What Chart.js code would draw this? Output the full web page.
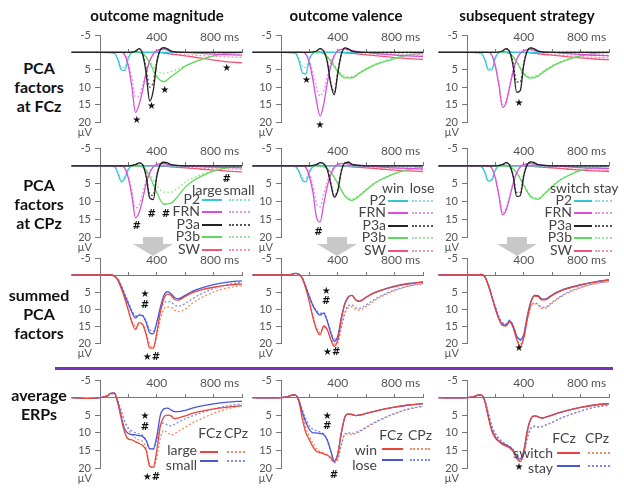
<!DOCTYPE html>
<html><head><meta charset="utf-8">
<script src="https://cdn.jsdelivr.net/npm/chart.js@4"></script>
<style>
body{margin:0;width:624px;height:492px;background:#fff;position:relative;overflow:hidden;font-family:Lato,"Open Sans",sans-serif;}
canvas{position:absolute;}
.txt{position:absolute;white-space:nowrap;line-height:1;color:#222;}
.title{font-weight:bold;font-size:15px;color:#111;}
.rowlab{font-weight:bold;font-size:16px;color:#111;}
.lg2{font-size:14px;color:#444;}
.lg4{font-size:14px;color:#444;}
</style></head><body>
<svg style="position:absolute;left:0;top:0" width="624" height="492" id="deco"></svg>
<script>
// ---------------- DATA ----------------
const xTicks = [0, 200, 400, 600, 800, 1000];
const yTicks = [-5, 5, 10, 15, 20];
const columnTitles = ['outcome magnitude', 'outcome valence', 'subsequent strategy'];
const rowLabels = [['PCA', 'factors', 'at FCz'], ['PCA', 'factors', 'at CPz'], ['summed', 'PCA', 'factors'], ['average', 'ERPs']];
const compNames = ['P2', 'FRN', 'P3a', 'P3b', 'SW'];
const condMag = ['large', 'small'];
const condVal = ['win', 'lose'];
const condStr = ['switch', 'stay'];
const electrodes = ['FCz', 'CPz'];

const times_P2  = [-200, 0, 100, 125, 150, 175, 200, 225, 250, 300, 400, 1000];
const times_FRN = [-200, 0, 150, 175, 200, 225, 250, 275, 300, 325, 350, 375, 400, 450, 500, 600, 800, 1000];
const times_P3a = [-200, 0, 200, 250, 275, 300, 325, 350, 375, 400, 425, 450, 475, 500, 600, 1000];
const times_P3b = [-200, 0, 250, 300, 350, 400, 450, 500, 550, 600, 650, 700, 800, 900, 1000];
const times_SW  = [-200, 0, 300, 400, 500, 600, 700, 800, 900, 1000];
const times_ERP = [-200, -100, 0, 50, 75, 100, 125, 150, 175, 200, 225, 250, 275, 300, 325, 350, 375, 400, 425, 450, 475, 500, 525, 550, 600, 650, 700, 800, 900, 1000];

// PCA factors at FCz
const mag_FCz_P2_large  = [0,0,0.2,2,5,5.2,1.5,0,-0.3,0,0,0];
const mag_FCz_P2_small  = [0,0,0.2,1.6,4.2,4.3,1.2,0,-0.3,0,0,0];
const mag_FCz_FRN_large = [0,0,0,0.8,4,10,17.3,15,11,6,2.5,0.5,-0.5,-1,-0.3,0,0.5,0.8];
const mag_FCz_FRN_small = [0,0,0,0.6,3,7.5,12.8,12.5,9.5,5.5,2.5,0.5,-0.4,-0.8,-0.3,0,0.3,0.5];
const mag_FCz_P3a_large = [0,0,0,-0.3,-1.1,0.5,6,14,11,3,-0.8,-1.4,-1,-0.4,0,0];
const mag_FCz_P3a_small = [0,0,0,-0.3,-1,0.3,4.5,10,8.5,2.5,-0.6,-1.2,-0.9,-0.3,0,0];
const mag_FCz_P3b_large = [0,0,0,0.3,3,7,8.4,7,5.5,4,3,2.2,1,0.3,0];
const mag_FCz_P3b_small = [0,0,0,0.3,2.5,5.2,6,5.5,4.7,3.8,3,2.2,1,0.3,0];
const mag_FCz_SW_large  = [0,0,0,0,0.5,1,1.6,2.2,2.7,3];
const mag_FCz_SW_small  = [0,0,0,0,0.3,0.6,0.9,1.1,1.3,1.4];

const val_FCz_P2_win   = [0,0,0.2,2.2,5.8,6.2,2,0.2,-0.3,0,0,0];
const val_FCz_P2_lose  = [0,0,0.2,1.5,4,4.3,1.5,0.2,-0.3,0,0,0];
const val_FCz_FRN_win  = [0,0,0,0.5,3,8,14,18.3,15,9,4,1,-0.5,-1,-0.5,0,0.8,1.2];
const val_FCz_FRN_lose = [0,0,0,0.4,2.5,6,10,12.5,11,7,3,0.8,-0.4,-0.8,-0.3,0,0.4,0.6];
const val_FCz_P3a_win  = [0,0,0,-0.4,-1.1,-0.4,2.5,9,12.2,6,0.5,-1.3,-1,-0.4,0,0];
const val_FCz_P3a_lose = [0,0,0,-0.4,-1.1,-0.4,2.2,8.5,11.5,5.5,0.4,-1.2,-0.9,-0.4,0,0];
const val_FCz_P3b_win  = [0,0,0,0.3,2.5,5.5,7.3,7.3,6,4.8,3.8,3,1.8,0.7,0.2];
const val_FCz_P3b_lose = [0,0,0,0.3,2.2,5,6.8,7,5.8,4.6,3.6,2.8,1.6,0.6,0.2];
const val_FCz_SW_win   = [0,0,0,0,0.3,0.7,1.1,1.5,1.8,2];
const val_FCz_SW_lose  = [0,0,0,0,0.2,0.4,0.6,0.7,0.8,0.9];

const str_FCz_P2_switch  = [0,0,0.2,2,5,5,1.5,0,-0.3,0,0,0];
const str_FCz_P2_stay    = [0,0,0.2,1.8,4.6,4.6,1.3,0,-0.3,0,0,0];
const str_FCz_FRN_switch = [0,0,0,0.8,4,9.5,15.8,14.5,10,5.5,2,0.3,-0.5,-0.8,-0.3,0,0.6,1];
const str_FCz_FRN_stay   = [0,0,0,0.8,3.8,9,15,14,9.5,5,1.8,0.3,-0.5,-0.8,-0.3,0,0.5,0.8];
const str_FCz_P3a_switch = [0,0,0,-0.4,-1.1,-0.2,4,11.5,11,3.5,-0.5,-1.3,-1,-0.4,0,0];
const str_FCz_P3a_stay   = [0,0,0,-0.4,-1,-0.2,3,8.5,8.5,3,-0.4,-1.2,-0.9,-0.4,0,0];
const str_FCz_P3b_switch = [0,0,0,0.3,2.8,6.2,7.4,6.8,5.3,4,3,2.2,1,0.3,0];
const str_FCz_P3b_stay   = [0,0,0,0.3,2.5,5.8,7,6.5,5,3.8,2.8,2,1,0.3,0];
const str_FCz_SW_switch  = [0,0,0,0,0.4,0.8,1.2,1.6,1.9,2.1];
const str_FCz_SW_stay    = [0,0,0,0,0.3,0.6,0.9,1.2,1.4,1.5];

// PCA factors at CPz
const mag_CPz_P2_large  = [0,0,0.2,2,4.5,3.5,1,0,-0.3,0,0,0];
const mag_CPz_P2_small  = [0,0,0.2,1.6,3.8,3,0.8,0,-0.3,0,0,0];
const mag_CPz_FRN_large = [0,0,0,0.7,3.5,8.5,14.6,13.2,9.5,5,2,0.3,-0.4,-0.6,-0.2,0,0.4,0.6];
const mag_CPz_FRN_small = [0,0,0,0.6,3,7,11.8,11,7.8,4.2,1.6,0.3,-0.4,-0.6,-0.2,0,0.3,0.4];
const mag_CPz_P3a_large = [0,0,0,-0.3,-0.8,-0.3,3,9,9.5,3,-0.4,-1,-0.8,-0.3,0,0];
const mag_CPz_P3a_small = [0,0,0,-0.3,-0.8,-0.3,2.6,8,8.3,2.6,-0.4,-1,-0.8,-0.3,0,0];
const mag_CPz_P3b_large = [0,0,0,0.3,3,7.5,10.8,10.5,8.5,6,4.4,3.2,1.5,0.5,0.2];
const mag_CPz_P3b_small = [0,0,0,0.3,2.2,5.5,7.4,7.4,6.2,4.6,3.5,2.6,1.3,0.5,0.2];
const mag_CPz_SW_large  = [0,0,0,0,0.3,0.6,0.9,1.2,1.5,1.7];
const mag_CPz_SW_small  = [0,0,0,0,0.2,0.4,0.6,0.8,0.9,1];

const val_CPz_P2_win   = [0,0,0.2,1.5,4,4.5,1.8,0.2,-0.3,0,0,0];
const val_CPz_P2_lose  = [0,0,0.2,1.2,3.2,3.6,1.4,0.2,-0.3,0,0,0];
const val_CPz_FRN_win  = [0,0,0,0.5,3,7.5,14.5,15.8,11,6,2.5,0.5,-0.4,-0.7,-0.3,0,0.6,0.9];
const val_CPz_FRN_lose = [0,0,0,0.4,2.2,5.5,10.5,11.5,8,4.5,1.8,0.3,-0.4,-0.6,-0.3,0,0.3,0.4];
const val_CPz_P3a_win  = [0,0,0,-0.3,-0.9,-0.6,1,5,8.8,7,1.5,-0.8,-1,-0.4,0,0];
const val_CPz_P3a_lose = [0,0,0,-0.3,-0.9,-0.6,0.9,4.6,8.4,6.6,1.4,-0.8,-1,-0.4,0,0];
const val_CPz_P3b_win  = [0,0,0,0.2,1.8,5,8.5,9.7,8.5,6.8,5.2,4,2.2,1,0.3];
const val_CPz_P3b_lose = [0,0,0,0.2,1.7,4.8,8.2,9.3,8.2,6.6,5,3.9,2.1,1,0.3];
const val_CPz_SW_win   = [0,0,0,0,0.3,0.6,0.9,1.2,1.4,1.6];
const val_CPz_SW_lose  = [0,0,0,0,0.2,0.4,0.6,0.7,0.8,0.9];

const str_CPz_P2_switch  = [0,0,0.2,1.8,4.3,4,1.2,0,-0.3,0,0,0];
const str_CPz_P2_stay    = [0,0,0.2,1.6,4,3.7,1.1,0,-0.3,0,0,0];
const str_CPz_FRN_switch = [0,0,0,0.7,3.5,8.5,13.8,12.5,9,5,2,0.3,-0.4,-0.6,-0.3,0,0.5,0.8];
const str_CPz_FRN_stay   = [0,0,0,0.7,3.3,8,13.2,12,8.6,4.8,1.9,0.3,-0.4,-0.6,-0.3,0,0.4,0.7];
const str_CPz_P3a_switch = [0,0,0,-0.3,-0.9,-0.2,3,8.6,8.4,2.8,-0.4,-1.1,-0.9,-0.3,0,0];
const str_CPz_P3a_stay   = [0,0,0,-0.3,-0.9,-0.2,2.6,7.5,7.5,2.5,-0.4,-1,-0.8,-0.3,0,0];
const str_CPz_P3b_switch = [0,0,0,0.2,2,5.5,8.8,9.4,7.8,5.8,4.2,3,1.3,0.5,0.2];
const str_CPz_P3b_stay   = [0,0,0,0.2,1.9,5.2,8.4,9,7.5,5.6,4,2.9,1.3,0.5,0.2];
const str_CPz_SW_switch  = [0,0,0,0,0.3,0.6,0.9,1.2,1.4,1.6];
const str_CPz_SW_stay    = [0,0,0,0,0.3,0.5,0.8,1,1.2,1.3];

// summed PCA factors
const mag_sum_FCz_large = [0,0,0,0,0,0.3,1.5,4,7,10.5,14,16,14,14.5,17.5,21.5,21.5,17,11,7,5.6,6,7.2,7.4,6.3,5.2,4.5,3.6,3,2.6];
const mag_sum_CPz_large = [0,0,0,0,0,0.3,1.3,3.5,6.5,10,13.5,15,14.5,14.5,17,20.5,21.3,18,13,10,9.4,9.5,10.3,10.8,10,8.3,7,5,3.8,3.1];
const mag_sum_FCz_small = [0,0,0,0,0,0.3,1.3,3.5,6,8.5,11,12.6,11.8,12,14,17,17.3,14,9.5,6,4.9,5.5,6.6,7,6,4.8,4,2.8,2.1,1.7];
const mag_sum_CPz_small = [0,0,0,0,0,0.3,1.2,3,5.5,8,10.5,12,11.5,11.8,13.5,16,16.6,14,10.5,8.2,7.8,8,8.8,9.2,8.4,7,5.8,4,2.8,2.2];

const val_sum_FCz_win  = [0,0,0,0,-0.2,-0.5,-0.3,1,4,8,12.5,16,17.6,15,16,19,21,19,13,8.5,6.5,6,7.3,7.8,6.6,5.4,4.6,3.4,2.6,2.1];
const val_sum_CPz_win  = [0,0,0,0,-0.2,-0.5,-0.3,1,3.8,7.5,12,15.5,17,15.5,16,18.5,20.3,20,15.5,11.5,9.6,9.4,10.2,10.3,9.3,7.8,6.5,4.6,3.3,2.6];
const val_sum_FCz_lose = [0,0,0,0,-0.2,-0.5,-0.3,0.9,3.5,6.5,9,10.8,11.8,11.2,13.5,17,19.5,18,12.5,8.3,6.4,6,7.2,7.7,6.5,5.3,4.5,3.3,2.5,2];
const val_sum_CPz_lose = [0,0,0,0,-0.2,-0.5,-0.3,0.9,3.3,6.2,8.8,10.5,11.3,11,13,16.5,18.8,19,15,11,9,8.8,9.6,9.8,8.8,7.4,6.2,4.4,3.2,2.5];

const str_sum_FCz_switch = [0,0,0,0,0,-0.2,0.5,3,6.5,10,13,14.8,15,13.8,15.5,19,21,18.5,12.5,8,6.2,6.3,7.3,7.3,6,4.9,4.1,3,2.1,1.5];
const str_sum_CPz_switch = [0,0,0,0,0,-0.2,0.5,2.8,6.2,9.6,12.5,14.2,14.6,13.6,15.2,18.5,20.3,18.5,13.5,9.5,8.4,8.8,9.8,9.8,8.3,6.7,5.5,3.8,2.6,2];
const str_sum_FCz_stay   = [0,0,0,0,0,-0.2,0.5,3,6.3,9.8,12.8,14.5,14.7,13.5,15,18,19,17.5,12,7.8,6,6.1,7,7.1,5.8,4.7,3.9,2.8,2,1.4];
const str_sum_CPz_stay   = [0,0,0,0,0,-0.2,0.5,2.8,6,9.3,12.2,14,14.3,13.3,14.8,17.8,19.3,17.8,13,9.2,8.2,8.6,9.5,9.5,8,6.5,5.3,3.6,2.5,1.9];

// average ERPs
const mag_erp_FCz_large = [0,0.2,0,-0.5,-1.2,-1.3,1.5,6,10,11.8,12,12.6,13,13.6,15,19.5,19.8,15,8,5.5,5,5.2,6,5.8,5.2,4.5,4,3.2,2.7,2.3];
const mag_erp_CPz_large = [0,0.2,0,-0.4,-1,-1.2,0.8,4,7,9,10.5,11.5,12,12.5,14.5,19,20,17,11.5,9.3,10,10.6,10.3,9.6,8.5,7.2,6.3,4.5,3.2,2.3];
const mag_erp_FCz_small = [0,0.2,0,-0.5,-1.2,-1.3,1.3,5.5,9,10.2,10.5,10.6,10.8,11,12.2,14.5,14.6,11,5,3.2,3,3.5,4,4,3.6,3,2.5,1.8,1.3,1];
const mag_erp_CPz_small = [0,0.2,0,-0.4,-1,-1.2,0.8,3.8,6.8,8.6,9.5,10,10.3,10.7,12,14.5,14.7,12,8,7.2,7.8,8,7.6,7,6,5.2,4.5,3.2,2.3,1.8];

const val_erp_FCz_win  = [0,0.1,0,-0.3,-0.7,-0.8,1,6,10,12,14,15.3,15.6,16,16.3,17,18.2,16,10,5.5,4.6,4.8,5.1,5,4.5,4,3.5,2.7,2.1,1.7];
const val_erp_CPz_win  = [0,0.1,0,-0.3,-0.6,-0.7,0.6,4.5,8.5,11,13,14.5,15.3,15.8,16.3,17.5,18.5,17.3,13.5,10.5,10.3,10.5,10.2,9.8,8.6,7.4,6.4,4.6,3.3,2.5];
const val_erp_FCz_lose = [0,0.1,0,-0.3,-0.7,-0.8,0.8,4,7,9,10,10,10.2,10.5,12,15,18,16,10,5.5,4.6,4.8,5.1,5,4.5,4,3.5,2.7,2.1,1.7];
const val_erp_CPz_lose = [0,0.1,0,-0.3,-0.6,-0.7,0.5,3.5,6,8,9,9.4,9.8,10.3,12,15.5,18.5,17.5,13.5,10.3,10,10.2,9.9,9.5,8.4,7.2,6.2,4.5,3.2,2.4];

const str_erp_FCz_switch = [0,0.1,0,-0.3,-0.7,-0.8,1,5.5,9.5,11.5,12.5,13.3,13.8,14.3,15.3,17.3,18.2,15.5,9.5,6,5.2,5.4,5.8,5.6,5,4.3,3.7,2.8,2.1,1.7];
const str_erp_CPz_switch = [0,0.1,0,-0.3,-0.6,-0.7,0.7,4.5,8.3,10.5,11.8,12.8,13.5,14,15,17,18,16.2,11.5,8.8,8.3,8.5,8.4,8,7.1,6.1,5.3,3.9,2.8,2.2];
const str_erp_FCz_stay   = [0,0.1,0,-0.3,-0.7,-0.8,1,5.3,9.2,11.2,12.3,13,13.5,14,15,16.8,17.5,15,9.3,6,5.2,5.4,5.8,5.6,5,4.3,3.7,2.8,2.1,1.7];
const str_erp_CPz_stay   = [0,0.1,0,-0.3,-0.6,-0.7,0.7,4.3,8,10.2,11.5,12.5,13.2,13.8,14.8,16.6,17.3,15.8,11.2,8.6,8.1,8.3,8.2,7.8,7,6,5.2,3.8,2.7,2.1];

// significance marks: [time ms, µV, symbol]
const marks_mag_FCz = [[258, 19.5, '★'], [362, 15.6, '★'], [455, 10.9, '★'], [892, 4.7, '★']];
const marks_val_FCz = [[180, 8, '★'], [275, 20.9, '★']];
const marks_str_FCz = [[366, 14.7, '★']];
const marks_mag_CPz = [[258, 17, '#'], [364, 13.6, '#'], [465, 13.6, '#'], [892, 3.7, '#']];
const marks_val_CPz = [[263, 18.8, '#']];
const marks_str_CPz = [];
const marks_mag_sum = [[317, 5.8, '★'], [317, 8.8, '#'], [362, 24.3, '★#']];
const marks_val_sum = [[319, 4.8, '★'], [319, 7.9, '#'], [357, 22.9, '★#']];
const marks_str_sum = [[366, 21.6, '★']];
const marks_mag_erp = [[317, 5.4, '★'], [317, 8.4, '#'], [362, 22.7, '★#']];
const marks_val_erp = [[325, 5.4, '★'], [325, 8.3, '#'], [373, 22, '#']];
const marks_str_erp = [[366, 19.7, '★']];

// ---------------- STYLE / LAYOUT ----------------
const FONT = 'Lato, "Open Sans", sans-serif';
const compColors = ['#35c6d6', '#d94fd9', '#222222', '#5fd95a', '#f0557a'];
const compDotColors = ['#86dde8', '#e394e3', '#555555', '#9de59a', '#f296ad'];
const ercColors = {red: '#e8453c', redDot: '#f08a62', blue: '#4b55d9', blueDot: '#7f8ce6'};
const colAxis = [100, 281, 467];
const rowY = [[35, 122], [148, 237], [258, 343], [380, 468]];

const pts = (t, v) => t.map((x, i) => ({x, y: v[i]}));
const compTimes = [times_P2, times_FRN, times_P3a, times_P3b, times_SW];

// Chart.js paints dataset 0 last (on top), so lists are built bottom-first then reversed
function pcaDatasets(pairs) {
  const order = [4, 3, 0, 1, 2];
  const ds = [];
  for (const i of order) {
    ds.push({data: pts(compTimes[i], pairs[i][1]), borderColor: compDotColors[i], borderDash: [2, 2], borderWidth: 1.3});
    ds.push({data: pts(compTimes[i], pairs[i][0]), borderColor: compColors[i], borderWidth: 1.3});
  }
  return ds.reverse();
}
function erpDatasets(fcz1, cpz1, fcz2, cpz2) {
  return [
    {data: pts(times_ERP, cpz1), borderColor: ercColors.redDot, borderDash: [2, 2], borderWidth: 1.3},
    {data: pts(times_ERP, cpz2), borderColor: ercColors.blueDot, borderDash: [2, 2], borderWidth: 1.3},
    {data: pts(times_ERP, fcz2), borderColor: ercColors.blue, borderWidth: 1.3},
    {data: pts(times_ERP, fcz1), borderColor: ercColors.red, borderWidth: 1.3}
  ].reverse();
}

const panels = [
  {col: 0, row: 0, marks: marks_mag_FCz, datasets: pcaDatasets([[mag_FCz_P2_large, mag_FCz_P2_small], [mag_FCz_FRN_large, mag_FCz_FRN_small], [mag_FCz_P3a_large, mag_FCz_P3a_small], [mag_FCz_P3b_large, mag_FCz_P3b_small], [mag_FCz_SW_large, mag_FCz_SW_small]])},
  {col: 1, row: 0, marks: marks_val_FCz, datasets: pcaDatasets([[val_FCz_P2_win, val_FCz_P2_lose], [val_FCz_FRN_win, val_FCz_FRN_lose], [val_FCz_P3a_win, val_FCz_P3a_lose], [val_FCz_P3b_win, val_FCz_P3b_lose], [val_FCz_SW_win, val_FCz_SW_lose]])},
  {col: 2, row: 0, marks: marks_str_FCz, datasets: pcaDatasets([[str_FCz_P2_switch, str_FCz_P2_stay], [str_FCz_FRN_switch, str_FCz_FRN_stay], [str_FCz_P3a_switch, str_FCz_P3a_stay], [str_FCz_P3b_switch, str_FCz_P3b_stay], [str_FCz_SW_switch, str_FCz_SW_stay]])},
  {col: 0, row: 1, marks: marks_mag_CPz, datasets: pcaDatasets([[mag_CPz_P2_large, mag_CPz_P2_small], [mag_CPz_FRN_large, mag_CPz_FRN_small], [mag_CPz_P3a_large, mag_CPz_P3a_small], [mag_CPz_P3b_large, mag_CPz_P3b_small], [mag_CPz_SW_large, mag_CPz_SW_small]])},
  {col: 1, row: 1, marks: marks_val_CPz, datasets: pcaDatasets([[val_CPz_P2_win, val_CPz_P2_lose], [val_CPz_FRN_win, val_CPz_FRN_lose], [val_CPz_P3a_win, val_CPz_P3a_lose], [val_CPz_P3b_win, val_CPz_P3b_lose], [val_CPz_SW_win, val_CPz_SW_lose]])},
  {col: 2, row: 1, marks: marks_str_CPz, datasets: pcaDatasets([[str_CPz_P2_switch, str_CPz_P2_stay], [str_CPz_FRN_switch, str_CPz_FRN_stay], [str_CPz_P3a_switch, str_CPz_P3a_stay], [str_CPz_P3b_switch, str_CPz_P3b_stay], [str_CPz_SW_switch, str_CPz_SW_stay]])},
  {col: 0, row: 2, marks: marks_mag_sum, datasets: erpDatasets(mag_sum_FCz_large, mag_sum_CPz_large, mag_sum_FCz_small, mag_sum_CPz_small)},
  {col: 1, row: 2, marks: marks_val_sum, datasets: erpDatasets(val_sum_FCz_win, val_sum_CPz_win, val_sum_FCz_lose, val_sum_CPz_lose)},
  {col: 2, row: 2, marks: marks_str_sum, datasets: erpDatasets(str_sum_FCz_switch, str_sum_CPz_switch, str_sum_FCz_stay, str_sum_CPz_stay)},
  {col: 0, row: 3, marks: marks_mag_erp, datasets: erpDatasets(mag_erp_FCz_large, mag_erp_CPz_large, mag_erp_FCz_small, mag_erp_CPz_small)},
  {col: 1, row: 3, marks: marks_val_erp, datasets: erpDatasets(val_erp_FCz_win, val_erp_CPz_win, val_erp_FCz_lose, val_erp_CPz_lose)},
  {col: 2, row: 3, marks: marks_str_erp, datasets: erpDatasets(str_erp_FCz_switch, str_erp_CPz_switch, str_erp_FCz_stay, str_erp_CPz_stay)}
];

const marksPlugin = (marks) => ({
  id: 'marks',
  afterDraw(chart) {
    const ctx = chart.ctx, xs = chart.scales.x, ys = chart.scales.y;
    ctx.save();
    ctx.fillStyle = '#555';
    ctx.font = '11px ' + FONT;
    ctx.textAlign = 'right';
    ctx.textBaseline = 'middle';
    ctx.fillText('µV', xs.getPixelForValue(0) - 8, ys.getPixelForValue(20) + 10);
    ctx.fillStyle = '#111';
    ctx.textAlign = 'center';
    ctx.font = 'bold 10px "DejaVu Sans", sans-serif';
    for (const [t, v, s] of marks) {
      ctx.fillText(s, xs.getPixelForValue(t), ys.getPixelForValue(v));
    }
    ctx.restore();
  }
});

function xLabel(v) {
  if (v === 400) return '400';
  if (v === 800) return '\u2002\u2002800 ms';
  return '';
}

function makePanel(p) {
  const ax = colAxis[p.col];
  const [top, bot] = rowY[p.row];
  const W = 182, H = (bot - top) + 12 + 30;
  const c = document.createElement('canvas');
  c.width = W; c.height = H;
  c.style.left = (ax - 32) + 'px';
  c.style.top = (top - 12) + 'px';
  document.body.appendChild(c);
  new Chart(c, {
    type: 'line',
    data: {datasets: p.datasets},
    options: {
      responsive: false, animation: false, events: [],
      layout: {padding: {left: 4, right: 8, top: 12, bottom: 30}},
      plugins: {legend: {display: false}, tooltip: {enabled: false}},
      elements: {point: {radius: 0}, line: {cubicInterpolationMode: 'monotone', fill: false}},
      datasets: {line: {clip: false}},
      scales: {
        x: {
          type: 'linear', position: {y: 0}, bounds: 'data',
          afterDataLimits: s => { s.min = 0; s.max = 1000; },
          afterBuildTicks: s => { s.ticks = xTicks.map(v => ({value: v})); },
          ticks: {autoSkip: false, maxRotation: 0, minRotation: 0, padding: -18, color: '#555', font: {size: 12, family: FONT}, callback: v => xLabel(v)},
          grid: {drawOnChartArea: false, drawTicks: true, tickLength: -4, color: '#777'},
          border: {display: true, color: '#777', width: 1}
        },
        y: {
          type: 'linear', position: 'left', reverse: true, min: -5, max: 20,
          afterFit: s => { s.width = 28; },
          afterBuildTicks: s => { s.ticks = yTicks.map(v => ({value: v})); },
          ticks: {padding: 4, color: '#555', font: {size: 11, family: FONT}},
          grid: {drawOnChartArea: false, drawTicks: true, tickLength: 5, color: '#777'},
          border: {display: true, color: '#777', width: 1}
        }
      }
    },
    plugins: [marksPlugin(p.marks)]
  });
}
panels.forEach(makePanel);

// ---------------- TEXT & DECORATION ----------------
function addText(str, x, y, align, cls) {
  const d = document.createElement('div');
  d.className = 'txt ' + (cls || '');
  d.textContent = str;
  d.style.left = x + 'px';
  d.style.top = y + 'px';
  const tx = align === 'center' ? '-50%' : align === 'right' ? '-100%' : '0';
  d.style.transform = 'translate(' + tx + ',-50%)';
  document.body.appendChild(d);
}
function addLine(x1, x2, y, color, dotted) {
  const d = document.createElement('div');
  d.style.cssText = 'position:absolute;left:' + x1 + 'px;top:' + (y - 1) + 'px;width:' + (x2 - x1) + 'px;height:0;border-top:2px ' + (dotted ? 'dotted' : 'solid') + ' ' + color + ';';
  document.body.appendChild(d);
}

[157, 346, 527].forEach((x, i) => addText(columnTitles[i], x, 15, 'center', 'title'));
[68, 185, 295, 395].forEach((y0, r) => rowLabels[r].forEach((s, k) => addText(s, 39, y0 + k * 19, 'center', 'rowlab')));

const pcaLeg = [
  {conds: condMag, hx: [207, 239], hy: 190, lx: 200, s: [202, 222], d: [229, 250], y0: 199},
  {conds: condVal, hx: [393, 422], hy: 188, lx: 386, s: [388, 408], d: [412, 433], y0: 200},
  {conds: condStr, hx: [570, 606], hy: 188, lx: 572, s: [574, 592], d: [595, 612], y0: 200}
];
pcaLeg.forEach(L => {
  addText(L.conds[0], L.hx[0], L.hy, 'center', 'lg2');
  addText(L.conds[1], L.hx[1], L.hy, 'center', 'lg2');
  compNames.forEach((n, i) => {
    const y = L.y0 + i * 12.4;
    addText(n, L.lx, y, 'right', 'lg2');
    addLine(L.s[0], L.s[1], y + 1, compColors[i], false);
    addLine(L.d[0], L.d[1], y + 1, compDotColors[i], true);
  });
});

const erpLeg = [
  {conds: condMag, hx: [210, 236], hy: 433, lx: 197, s: [200, 218], d: [227, 245], y: [450, 465], ly: [452, 461]},
  {conds: condVal, hx: [391, 420], hy: 435, lx: 377, s: [382, 403], d: [410, 430], y: [450, 465], ly: [449, 460]},
  {conds: condStr, hx: [564, 597], hy: 438, lx: 553, s: [557, 580], d: [588, 610], y: [453, 468], ly: [453, 466]}
];
erpLeg.forEach(L => {
  addText(electrodes[0], L.hx[0], L.hy, 'center', 'lg4');
  addText(electrodes[1], L.hx[1], L.hy, 'center', 'lg4');
  addText(L.conds[0], L.lx, L.y[0], 'right', 'lg4');
  addText(L.conds[1], L.lx, L.y[1], 'right', 'lg4');
  addLine(L.s[0], L.s[1], L.ly[0], ercColors.red, false);
  addLine(L.d[0], L.d[1], L.ly[0], ercColors.redDot, true);
  addLine(L.s[0], L.s[1], L.ly[1], ercColors.blue, false);
  addLine(L.d[0], L.d[1], L.ly[1], ercColors.blueDot, true);
});

const svg = document.getElementById('deco');
const NS = 'http://www.w3.org/2000/svg';
[153, 337, 517].forEach(cx => {
  const p = document.createElementNS(NS, 'polygon');
  p.setAttribute('points', [[cx - 10, 237], [cx + 10, 237], [cx + 10, 244], [cx + 20, 244], [cx, 256], [cx - 20, 244], [cx - 10, 244]].map(a => a.join(',')).join(' '));
  p.setAttribute('fill', '#c8c8c8');
  svg.appendChild(p);
});
const bar = document.createElementNS(NS, 'rect');
bar.setAttribute('x', 55); bar.setAttribute('y', 367); bar.setAttribute('width', 558); bar.setAttribute('height', 3);
bar.setAttribute('fill', '#7434b8');
svg.appendChild(bar);
</script>
</body></html>
